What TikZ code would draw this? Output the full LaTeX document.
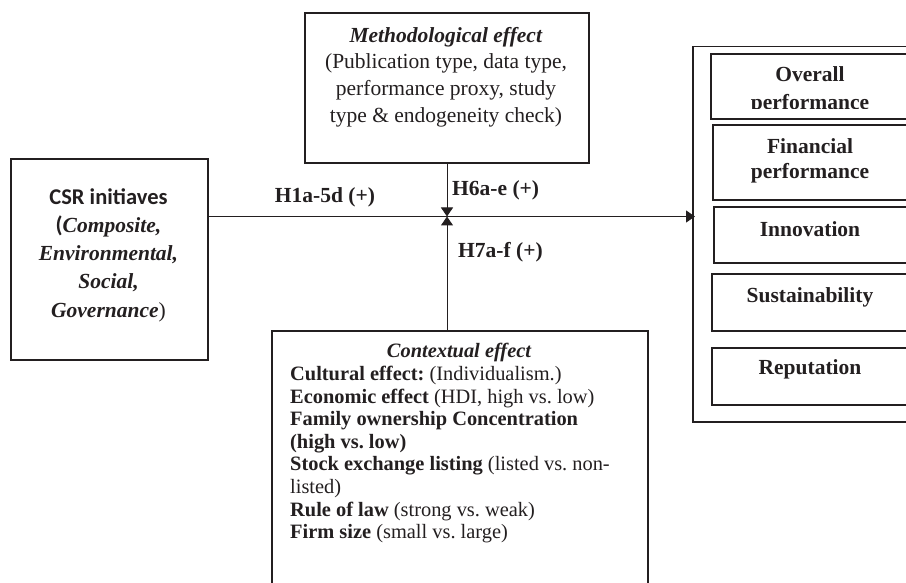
\documentclass[tikz,border=0pt]{standalone}
\usepackage{fontspec}
\setmainfont{Liberation Serif}
\newfontfamily\calib{Carlito}
\usetikzlibrary{arrows.meta}
\definecolor{ink}{HTML}{231F20}
\frenchspacing
\begin{document}
\begin{tikzpicture}[x=1pt,y=-1pt,
  frame/.style={draw=ink, line width=1.8pt, inner sep=0pt, anchor=north west},
  thinframe/.style={draw=ink, line width=1.5pt, inner sep=0pt, anchor=north west},
  conn/.style={draw=ink, line width=1pt},
  tipend/.style={-{Triangle[width=12pt,length=9pt]}},
  txt/.style={text=ink, inner sep=0pt, align=center, font=\fontsize{21.5}{26.7}\selectfont},
  hlabel/.style={text=ink, inner sep=0pt, font=\fontsize{21.5}{26}\selectfont\bfseries},
  outtxt/.style={text=ink, inner sep=0pt, align=center, font=\fontsize{21.5}{25}\selectfont\bfseries},
]
\clip (0,0) rectangle (906,583);
\fill[white] (0,0) rectangle (906,583);

% boxes
\node[frame, minimum width=197pt, minimum height=201pt] (csr) at (10,158) {};
\node[frame, minimum width=284pt, minimum height=150pt] (meth) at (304,12) {};
\node[frame, minimum width=376pt, minimum height=300pt] (ctx) at (271,330) {};
\node[thinframe, minimum width=240pt, minimum height=375pt] (outcome) at (692,46) {};
\node[frame, minimum width=220pt, minimum height=65pt] (ov) at (710,53) {};
\node[frame, minimum width=220pt, minimum height=75pt] (fin) at (712,124) {};
\node[frame, minimum width=220pt, minimum height=56pt] (inn) at (713,206) {};
\node[frame, minimum width=220pt, minimum height=57pt] (sus) at (711,273) {};
\node[frame, minimum width=220pt, minimum height=57pt] (rep) at (711,347) {};

% texts
\node[txt, font=\fontsize{21.5}{28.3}\selectfont] (csrt) at (108.5,255)
  {{\calib\bfseries\fontsize{22.5}{28.3}\selectfont CSR initiaves}\\
   {\calib\bfseries\fontsize{22.5}{28.3}\selectfont (}\textbf{\textit{Composite,}}\\
   \textbf{\textit{Environmental,}}\\
   \textbf{\textit{Social,}}\\
   \textbf{\textit{Governance}})};
\node[txt] (metht) at (446,77)
  {\textbf{\textit{Methodological effect}}\\
   (Publication type, data type,\\
   performance proxy, study\\
   type \& endogeneity check)};
\node[txt, font=\fontsize{20.4}{22.6}\selectfont\bfseries\itshape] (ctxtitle) at (459,352) {Contextual effect};
\node[txt, align=left, anchor=north west, font=\fontsize{20.4}{22.6}\selectfont] (ctxt) at (290,366)
  {\textbf{Cultural effect:} (Individualism.)\\
   \textbf{Economic effect} (HDI, high vs. low)\\
   \textbf{Family ownership Concentration}\\
   \textbf{(high vs. low)}\\
   \textbf{Stock exchange listing} (listed vs. non-\\
   listed)\\
   \textbf{Rule of law} (strong vs. weak)\\
   \textbf{Firm size} (small vs. large)};

\begin{scope}
  \clip (700,50) rectangle (906,109);
  \node[outtxt, font=\fontsize{21.5}{28}\selectfont\bfseries] (ovt) at (810,90) {Overall\\performance};
\end{scope}
\node[outtxt] (fint) at (810,161) {Financial\\performance};
\node[outtxt] (innt) at (810,229) {Innovation};
\node[outtxt] (sust) at (810,297) {Sustainability};
\node[outtxt] (rept) at (810,369) {Reputation};

% connectors
\coordinate (j) at (447,216.5);
\draw[conn, tipend] (j -| csr.east) -- ([xshift=3pt]j -| outcome.west);
\draw[conn, tipend] (j |- meth.south) -- (j);
\draw[conn, tipend] (j |- ctx.north) -- (j);

% labels
\node[hlabel] (h1) at (325,197) {H1a-5d (+)};
\node[hlabel, anchor=west] (h6) at (452,190) {H6a-e (+)};
\node[hlabel, anchor=west] (h7) at (458,252) {H7a-f (+)};
\end{tikzpicture}
\end{document}
